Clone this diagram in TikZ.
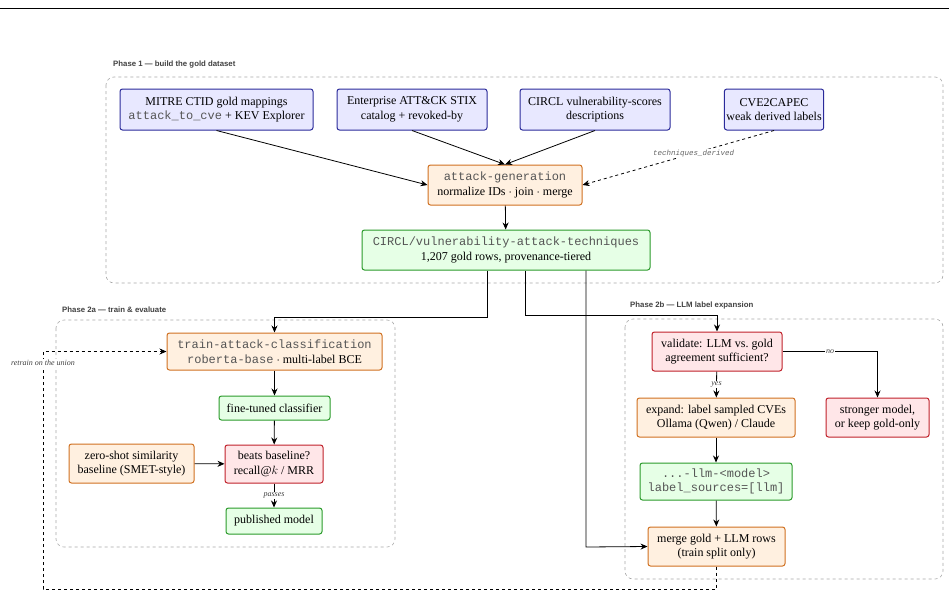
\documentclass[tikz,border=0pt]{standalone}
\usepackage{fontspec}
\setmainfont{Liberation Serif}
\setsansfont{Liberation Sans}
\setmonofont{Liberation Mono}
\usetikzlibrary{arrows.meta,positioning}
\definecolor{bfill}{HTML}{E8E8FF}\definecolor{bdraw}{HTML}{2A2A9A}
\definecolor{ofill}{HTML}{FFF0E0}\definecolor{odraw}{HTML}{D07020}
\definecolor{gfill}{HTML}{E6FFE6}\definecolor{gdraw}{HTML}{2A9A2A}
\definecolor{rfill}{HTML}{FFE6E8}\definecolor{rdraw}{HTML}{C0202A}
\definecolor{monoc}{HTML}{555555}
\newcommand{\mt}[1]{{\ttfamily\color{monoc}#1}}
\tikzset{
  box/.style={rounded corners=2.5pt,line width=1pt,align=center,inner sep=2pt,font=\fontsize{12}{14.5}\selectfont},
  bluebox/.style={box,fill=bfill,draw=bdraw},
  orbox/.style={box,fill=ofill,draw=odraw},
  grbox/.style={box,fill=gfill,draw=gdraw},
  rdbox/.style={box,fill=rfill,draw=rdraw},
  phase/.style={draw=gray!70,dashed,rounded corners=8pt,line width=0.6pt},
  phlabel/.style={font=\sffamily\bfseries\fontsize{7.8}{9}\selectfont,text=black!75,anchor=west,inner sep=0},
  arr/.style={-{Stealth[length=7pt,width=6pt]},line width=0.8pt},
  darr/.style={arr,dashed},
  elabel/.style={font=\itshape\fontsize{8}{9}\selectfont,fill=white,inner sep=1pt,text=black!75}
}
\begin{document}
\begin{tikzpicture}[x=1pt,y=-1pt]
\useasboundingbox (0,0) rectangle (949,597);
\draw[line width=0.5pt] (0,8) -- (949,8);
% phase boxes
\draw[phase] (106,77) rectangle (943,283);
\node[phlabel] (p1) at (113,64) {Phase 1 — build the gold dataset};
\draw[phase] (56,320) rectangle (395,547);
\node[phlabel] (p2a) at (62,310) {Phase 2a — train \& evaluate};
\draw[phase] (625,319) rectangle (943,579);
\node[phlabel] (p2b) at (630,305) {Phase 2b — LLM label expansion};
% phase 1 nodes
\node[bluebox,minimum width=193pt,minimum height=41pt] (mitre) at (216.5,109.5) {MITRE CTID gold mappings\\\mt{attack\_to\_cve} + KEV Explorer};
\node[bluebox,minimum width=150pt,minimum height=41pt] (ent) at (412,109.5) {Enterprise ATT\&CK STIX\\catalog + revoked-by};
\node[bluebox,minimum width=150pt,minimum height=41pt] (scores) at (595,109.5) {CIRCL vulnerability-scores\\descriptions};
\node[bluebox,minimum width=86pt,minimum height=41pt] (capec) at (774,109.5) {CVE2CAPEC\\weak derived labels};
\node[orbox,minimum width=154pt,minimum height=40pt] (gen) at (505,185) {\mt{attack-generation}\\normalize IDs $\cdot$ join $\cdot$ merge};
\node[grbox,minimum width=288pt,minimum height=40pt] (ds) at (506,250) {\mt{CIRCL/vulnerability-attack-techniques}\\1,207 gold rows, provenance-tiered};
\draw[arr] (mitre.south) -- (gen.west);
\draw[arr] (ent.south) -- (gen.north);
\draw[arr] (scores.south) -- (gen.north);
\draw[darr] (capec.south) -- node[pos=0.42,font=\ttfamily\itshape\fontsize{7.5}{8}\selectfont,text=black!60,fill=white,inner sep=1pt] (td) {techniques\_derived} (gen.east);
\draw[arr] (gen) -- (ds);
% phase 2a
\node[orbox,minimum width=215pt,minimum height=37pt] (train) at (274.5,351.5) {\mt{train-attack-classification}\\\mt{roberta-base} $\cdot$ multi-label BCE};
\node[grbox,minimum width=111pt,minimum height=24pt] (ft) at (274.5,408) {fine-tuned classifier};
\node[rdbox,minimum width=98pt,minimum height=38pt] (beat) at (274,464) {beats baseline?\\recall@$k$ / MRR};
\node[orbox,minimum width=125pt,minimum height=39pt] (zs) at (131.5,463.5) {zero-shot similarity\\baseline (SMET-style)};
\node[grbox,minimum width=96pt,minimum height=26pt] (pub) at (274,521) {published model};
\draw[arr] (train) -- (ft);
\draw[arr] (ft) -- (beat);
\draw[arr] (zs) -- (beat);
\draw[arr] (beat) -- node[elabel] (pl) {passes} (pub);
% phase 2b
\node[rdbox,minimum width=130pt,minimum height=39pt] (val) at (717,351.5) {validate: LLM vs.\ gold\\agreement sufficient?};
\node[orbox,minimum width=158pt,minimum height=39pt] (exp) at (716,417.5) {expand: label sampled CVEs\\Ollama (Qwen) / Claude};
\node[grbox,minimum width=152pt,minimum height=37pt] (llm) at (716,481.5) {\mt{...-llm-<model>}\\\mt{label\_sources=[llm]}};
\node[orbox,minimum width=137pt,minimum height=39pt] (merge) at (716.5,546.5) {merge gold + LLM rows\\(train split only)};
\node[rdbox,minimum width=103pt,minimum height=39pt] (strong) at (877.5,417.5) {stronger model,\\or keep gold-only};
\draw[arr] (val) -- node[elabel] (yl) {yes} (exp);
\draw[arr] (exp) -- (llm);
\draw[arr] (llm) -- (merge);
\draw[arr] (val.east) -- node[elabel,pos=0.5] (nl) {no} (877.5,351.5) -- (strong.north);
% cross connectors
\draw[arr] (ds.south -| 487,0) -- (487,317) -- (274.5,317) -- (train.north);
\draw[arr] (ds.south -| 525,0) -- (525,315) -- (717,315) -- (val.north);
\draw[arr] (ds.south -| 586,0) -- (586,547) -- (merge.west);
\coordinate (c1) at (716.5,589);
\coordinate (c2) at (43,589);
\coordinate (c3) at (43,351.5);
\draw[darr] (merge.south) -- (c1) -- (c2) -- (c3) -- (train.west);
\node[elabel] (rl) at (43,363) {retrain on the union};
\end{tikzpicture}
\end{document}
